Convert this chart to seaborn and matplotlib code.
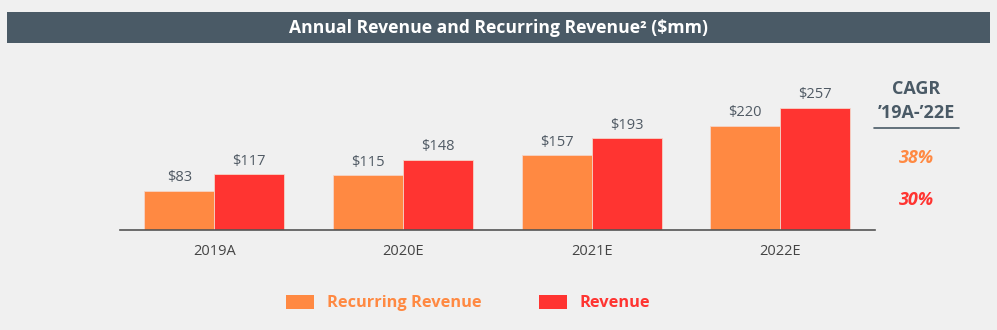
import matplotlib
matplotlib.use("Agg")
import matplotlib.pyplot as plt
import seaborn as sns
import pandas as pd
from matplotlib.patches import Rectangle
from matplotlib.lines import Line2D

years = ["2019A", "2020E", "2021E", "2022E"]
recurring = [83, 115, 157, 220]
revenue = [117, 148, 193, 257]
series_names = ["Recurring Revenue", "Revenue"]
cagr_values = ["38%", "30%"]

ORANGE = "#FF8942"
RED = "#FF3431"
BG = "#F0F0F0"
DARK = "#4A5A66"
LABEL = "#505A64"

df = pd.DataFrame({
    "Year": years * 2,
    "Value": recurring + revenue,
    "Series": [series_names[0]] * 4 + [series_names[1]] * 4,
})

sns.set_theme(style="white")
plt.rcParams["font.family"] = ["Open Sans", "DejaVu Sans"]

fig = plt.figure(figsize=(9.97, 3.3), dpi=100, facecolor=BG)
ax = fig.add_axes([120 / 997, 100 / 330, 754.7 / 997, 150 / 330])
ax.set_facecolor(BG)

sns.barplot(data=df, x="Year", y="Value", hue="Series", order=years,
            hue_order=series_names, palette=[ORANGE, RED], width=0.742,
            saturation=1, ax=ax, legend=False, linewidth=0.6, edgecolor="#F5D5C8")

for cont in ax.containers:
    for bar in cont:
        h = bar.get_height()
        ax.annotate(f"${h:.0f}", (bar.get_x() + bar.get_width() / 2, h),
                    xytext=(0, 4), textcoords="offset points",
                    ha="center", va="bottom", fontsize=10.5, color=LABEL)

ax.set_xlim(-0.5, 3.5)
ax.set_ylim(0, 316)
ax.set_xlabel("")
ax.set_ylabel("")
ax.set_yticks([])
for s in ["top", "right", "left"]:
    ax.spines[s].set_visible(False)
ax.spines["bottom"].set_color("#555555")
ax.spines["bottom"].set_linewidth(1.2)
ax.tick_params(axis="x", length=0, pad=10, labelsize=10.5, labelcolor="#444444")

# Title bar
fig.patches.append(Rectangle((7 / 997, 1 - 43 / 330), 983 / 997, 31 / 330,
                             transform=fig.transFigure, facecolor=DARK,
                             edgecolor="none", zorder=0))
fig.text(498 / 997, 1 - 28 / 330, "Annual Revenue and Recurring Revenue\u00b2 ($mm)",
         ha="center", va="center", color="white", fontsize=12.6, fontweight="bold")

# CAGR block
fig.text(916 / 997, 1 - 89 / 330, "CAGR", ha="center", va="center",
         fontsize=13, fontweight="bold", color=DARK)
fig.text(916 / 997, 1 - 113 / 330, "\u201919A-\u201922E", ha="center", va="center",
         fontsize=13, fontweight="bold", color=DARK)
fig.add_artist(Line2D([874 / 997, 959 / 997], [1 - 128 / 330, 1 - 128 / 330],
                      transform=fig.transFigure, color=DARK, linewidth=1.2))
fig.text(916 / 997, 1 - 158 / 330, cagr_values[0], ha="center", va="center",
         fontsize=13, fontweight="bold", fontstyle="italic", color=ORANGE)
fig.text(916 / 997, 1 - 200 / 330, cagr_values[1], ha="center", va="center",
         fontsize=13, fontweight="bold", fontstyle="italic", color=RED)

# Legend
handles = [Rectangle((0, 0), 1, 1, facecolor=c, edgecolor="none") for c in [ORANGE, RED]]
leg = fig.legend(handles, series_names, loc="center", bbox_to_anchor=(468 / 997, 1 - 303 / 330),
                 ncol=2, frameon=False, handlelength=1.75, handleheight=0.95,
                 handletextpad=0.75, columnspacing=3.5, prop={"weight": "bold", "size": 11.8})
for t, c in zip(leg.get_texts(), [ORANGE, RED]):
    t.set_color(c)

fig.savefig("out.png", dpi=100, facecolor=BG)
